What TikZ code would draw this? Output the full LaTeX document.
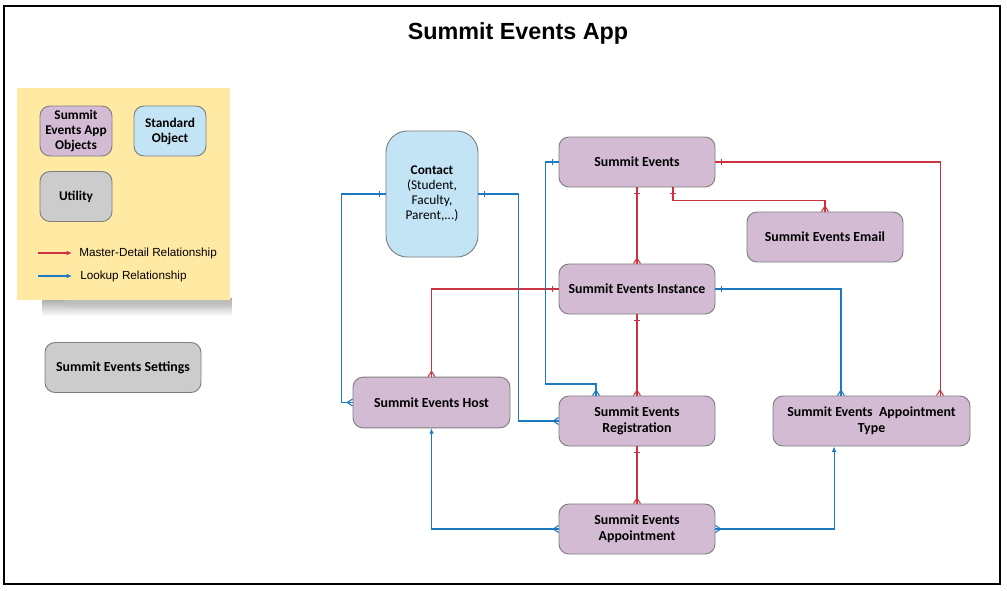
\documentclass[tikz,border=0pt]{standalone}
\usepackage{fontspec}
\setmainfont{Carlito}
\newfontfamily\arialfont{Liberation Sans}
\usetikzlibrary{positioning,arrows.meta,decorations.markings,fadings}

\definecolor{objpurple}{HTML}{D3BCD3}
\definecolor{stdblue}{HTML}{C2E4F5}
\definecolor{utilgray}{HTML}{CCCCCC}
\definecolor{legendyellow}{HTML}{FFE9A3}
\definecolor{mdred}{HTML}{CC3340}
\definecolor{lkblue}{HTML}{1B7AC0}
\definecolor{edgegray}{HTML}{7F7F7F}

\tikzset{
  onestart/.style={postaction={decorate,decoration={markings,
      mark=at position 4.5pt with {\draw[-] (0,-2.3pt) -- (0,2.3pt);}}}},
  manyend/.style={postaction={decorate,decoration={markings,
      mark=at position 1 with {\draw[-] (0,2.6pt) -- (-4pt,0) -- (0,-2.6pt);}}}},
  manystart/.style={postaction={decorate,decoration={markings,
      mark=at position 0 with {\draw[-] (0,2.6pt) -- (4pt,0) -- (0,-2.6pt);}}}},
}

\begin{document}
\begin{tikzpicture}[x=0.75pt, y=-0.75pt, node distance=30pt, on grid,
    entity/.style={rectangle, draw=edgegray, line width=0.7pt, rounded corners=7.5pt,
      fill=objpurple, minimum width=117pt, minimum height=37.5pt, align=center,
      inner sep=2pt, font=\bfseries\fontsize{10.4}{12}\selectfont},
    standard/.style={entity, fill=stdblue},
    utility/.style={entity, fill=utilgray},
    keybox/.style={entity, minimum width=54pt, font=\bfseries\fontsize{10}{11.25}\selectfont},
    keytext/.style={anchor=west, inner sep=0pt, font=\arialfont\fontsize{8.8}{10}\selectfont},
    master/.style={mdred, line width=0.8pt},
    lookup/.style={lkblue, line width=0.8pt},
    tip/.style={-{Latex[length=4pt,width=3.5pt]}}]

\useasboundingbox (0,0) rectangle (1007,590);
\fill[white] (0,0) rectangle (1007,590);
\draw[line width=1pt] (4,6) rectangle (1000,584);

\node[font=\arialfont\bfseries\fontsize{17.5}{20}\selectfont] (title) at (518,33) {Summit Events App};

% legend
\fill[black!35, path fading=south] (42,298) rectangle (232,316);
\fill[black!25, path fading=south] (65,298) rectangle (231,309);
\node[fill=legendyellow, minimum width=159.75pt, minimum height=159pt] (legend) at (123.5,194) {};
\node[keybox] (appobj) at (76,131) {Summit\\Events App\\Objects};
\node[keybox, fill=stdblue] (stdobj) at (170,131) {Standard\\Object};
\node[keybox, fill=utilgray] (util) at (76,196.5) {Utility};
\node[keytext] (mdtext) at (79,253) {Master-Detail Relationship};
\node[keytext] (lktext) at (80,276) {Lookup Relationship};
\draw[master, tip] (mdtext.west) ++(-41,0) -- ++(34,0);
\draw[lookup, tip] (lktext.west) ++(-42,0) -- ++(34,0);

\node[utility] (settings) at (123,367.5) {Summit Events Settings};

% objects
\node[standard, minimum width=69pt, minimum height=94.5pt, rounded corners=16pt,
  font=\fontsize{10}{11.25}\selectfont] (contact) at (432,194)
  {\textbf{Contact}\\(Student,\\Faculty,\\Parent,...)};
\node[entity] (se) at (637,162) {Summit Events};
\node[entity, below=95.25pt of se] (inst) {Summit Events Instance};
\node[entity, below=99pt of inst] (reg) {Summit Events\\Registration};
\node[entity, below=81pt of reg] (appt) {Summit Events\\Appointment};
\node[entity] (email) at (825,237) {Summit Events Email};
\node[entity, minimum width=117.75pt, minimum height=38pt] (host) at (431.5,402.5) {Summit Events Host};
\node[entity, minimum width=147.75pt] (apt) at (871.5,421) {Summit Events\ \ Appointment\\Type};

% master-detail
\draw[master, onestart, manyend] (se.south) -- (inst.north);
\draw[master, onestart, manyend] ([xshift=27pt]se.south) -- ++(0,13) -| (email.north);
\draw[master, onestart, manyend] (se.east) -| ([xshift=51.4pt]apt.north);
\draw[master, onestart, manyend] (inst.west) -| (host.north);
\draw[master, onestart, manyend] (inst.south) -- (reg.north);
\draw[master, onestart, manyend] (reg.south) -- (appt.north);

% lookup
\draw[lookup, onestart, manyend] (contact.west) -- ++(-44,0) |- (host.west);
\draw[lookup, onestart, manyend] (contact.east) -- ++(40,0) |- (reg.west);
\draw[lookup, onestart, manyend] (se.west) -- ++(-13,0) -- ++(0,222) -| ([xshift=-30.75pt]reg.north);
\draw[lookup, onestart, manyend] (inst.east) -| ([xshift=-22.9pt]apt.north);
\draw[lookup, manystart, tip] (appt.west) -| (host.south);
\draw[lookup, manystart, tip] (appt.east) -| ([xshift=-28.1pt]apt.south);

\end{tikzpicture}
\end{document}
